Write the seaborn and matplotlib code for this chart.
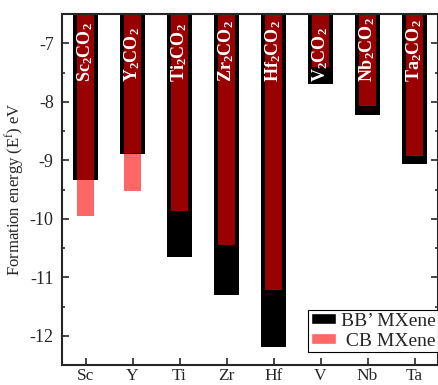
import numpy as np
import pandas as pd
import seaborn as sns
import matplotlib.pyplot as plt
from matplotlib.patches import Patch
from matplotlib.ticker import MultipleLocator

cats = ['Sc', 'Y', 'Ti', 'Zr', 'Hf', 'V', 'Nb', 'Ta']
bb_vals = [-9.34, -8.89, -10.65, -11.31, -12.20, -7.70, -8.22, -9.06]
cb_vals = [-9.96, -9.52, np.nan, np.nan, np.nan, np.nan, np.nan, np.nan]
m2co2_vals = [-9.33, -8.88, -9.86, -10.45, -11.21, -7.40, -8.07, -8.92]
bar_labels = ['Sc$_2$CO$_2$', 'Y$_2$CO$_2$', 'Ti$_2$CO$_2$', 'Zr$_2$CO$_2$',
              'Hf$_2$CO$_2$', 'V$_2$CO$_2$', 'Nb$_2$CO$_2$', 'Ta$_2$CO$_2$']

sns.set_style('ticks')
plt.rcParams['font.family'] = ['Liberation Serif', 'DejaVu Serif']
plt.rcParams['mathtext.default'] = 'regular'
plt.rcParams['axes.unicode_minus'] = False

df = pd.DataFrame({'metal': cats, 'bb': bb_vals, 'cb': cb_vals, 'm2co2': m2co2_vals})

fig = plt.figure(figsize=(4.38, 3.85), dpi=100)
ax = fig.add_axes([0.1416, 0.0519, 0.8584, 0.9117])

pink = '#ff6666'
dark_red = '#990000'

# CB first, then BB', then the M2CO2 bars on top
sns.barplot(data=df.dropna(subset=['cb']), x='metal', y='cb', order=cats, color=pink,
            saturation=1, width=0.37, ax=ax, linewidth=0)
sns.barplot(data=df, x='metal', y='bb', order=cats, color='black',
            saturation=1, width=0.52, ax=ax, linewidth=0)
sns.barplot(data=df, x='metal', y='m2co2', order=cats, color=dark_red,
            saturation=1, width=0.37, ax=ax, linewidth=0)

for i, lab in enumerate(bar_labels):
    ax.text(i, -7.66, lab, rotation=90, ha='center', va='bottom', color='white',
            fontsize=13, fontweight='bold')

ax.set_xlim(-0.5, 7.5)
ax.set_ylim(-12.5, -6.5)
ax.yaxis.set_major_locator(MultipleLocator(1))
ax.yaxis.set_minor_locator(MultipleLocator(0.5))
ax.tick_params(axis='both', which='both', direction='in', top=True, right=True,
               labelsize=13, width=1.2)
ax.tick_params(axis='y', which='major', length=5, pad=6)
ax.tick_params(axis='y', which='minor', length=2.5)
ax.tick_params(axis='x', which='major', length=5, pad=2, labelsize=12.5)
for s in ax.spines.values():
    s.set_linewidth(1.5)
    s.set_visible(True)

ax.set_xlabel('')
ax.set_ylabel('Formation energy (E$^f$) eV', fontsize=12, labelpad=3)

handles = [Patch(facecolor='black', label='BB’ MXene'),
           Patch(facecolor=pink, label=' CB MXene')]
leg = ax.legend(handles=handles, loc='lower right', bbox_to_anchor=(1.0, 0.037),
                borderaxespad=0, fontsize=14, frameon=True, fancybox=False,
                framealpha=1, edgecolor='black', handlelength=1.3,
                handleheight=0.5, handletextpad=0.25, labelspacing=0.15,
                borderpad=0.12)
leg.get_frame().set_linewidth(0.8)

fig.savefig('out.png', dpi=100)
